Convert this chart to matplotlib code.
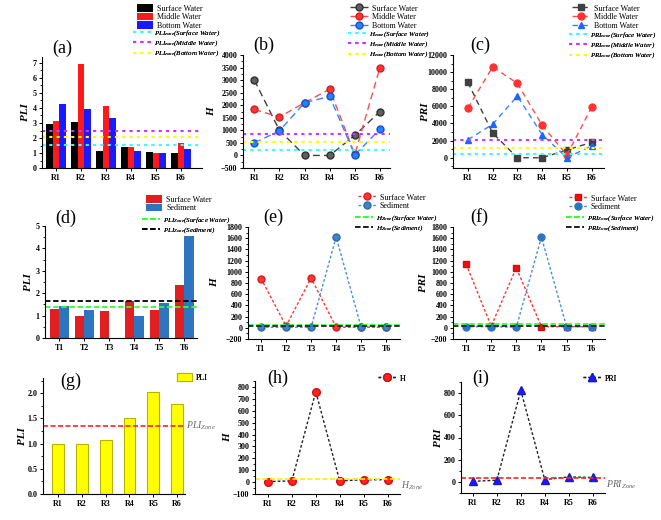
import matplotlib
matplotlib.use("Agg")
import matplotlib.pyplot as plt
import numpy as np
from matplotlib.ticker import AutoMinorLocator, MultipleLocator

plt.rcParams['font.family'] = ['Liberation Serif', 'DejaVu Serif']
plt.rcParams['mathtext.fontset'] = 'custom'
plt.rcParams['mathtext.rm'] = 'Liberation Serif'
plt.rcParams['mathtext.it'] = 'Liberation Serif:italic'
plt.rcParams['mathtext.bf'] = 'Liberation Serif:bold'

W, H = 661, 520

# ---- data ----
sites_r = ["R1", "R2", "R3", "R4", "R5", "R6"]
sites_t = ["T1", "T2", "T3", "T4", "T5", "T6"]

# (a) PLI by water layer
pli_surface = [2.9, 3.05, 1.15, 1.4, 1.07, 1.0]
pli_middle = [3.1, 6.9, 4.1, 1.42, 1.0, 1.65]
pli_bottom = [4.25, 3.9, 3.35, 1.15, 1.0, 1.3]
pli_zone = {"surface": 1.55, "middle": 2.45, "bottom": 2.1}

# (b) H by water layer
h_surface = [3000, 1000, 0, 0, 800, 1750]
h_middle = [1830, 1530, 2100, 2640, 40, 3500]
h_bottom = [500, 980, 2100, 2350, 20, 1050]
h_zone = {"surface": 200, "middle": 850, "bottom": 530}

# (c) PRI by water layer
pri_surface = [8800, 2900, 0, 0, 900, 1800]
pri_middle = [5800, 10600, 8700, 3800, 300, 5900]
pri_bottom = [2100, 3900, 7200, 2700, 0, 1400]
pri_zone = {"surface": 400, "middle": 2100, "bottom": 1100}

# (d)-(f) surface water vs sediment
pli_sw = [1.3, 1.0, 1.2, 1.65, 1.25, 2.35]
pli_sed = [1.45, 1.25, 0.0, 1.0, 1.55, 4.55]
pli_zone_sw, pli_zone_sed = 1.4, 1.65
h_sw = [880, 30, 890, 10, 10, 10]
h_sed = [10, 10, 10, 1620, 10, 10]
h_zone_sw, h_zone_sed = 50, 30
pri_sw = [1140, 30, 1070, 20, 20, 20]
pri_sed = [20, 20, 10, 1620, 20, 20]
pri_zone_sw, pri_zone_sed = 60, 40

# (g)-(i) single series
pli_g = [1.0, 1.0, 1.08, 1.5, 2.03, 1.78]
pli_g_zone = 1.35
h_h = [5, 10, 760, 10, 20, 20]
h_h_zone = 25
pri_i = [5, 15, 825, 20, 45, 40]
pri_i_zone = 35

fig = plt.figure(figsize=(W / 100, H / 100), dpi=100)


def make_ax(l, t, r, b):
    return fig.add_axes([l / W, 1 - b / H, (r - l) / W, (b - t) / H])


def style(ax, labels, xlim, ylim, step, ylabel, lab_px, l, r):
    ax.set_xlim(*xlim)
    ax.set_ylim(*ylim)
    ax.set_xticks(range(len(labels)))
    ax.set_xticklabels(labels)
    ax.yaxis.set_major_locator(MultipleLocator(step))
    ax.yaxis.set_minor_locator(AutoMinorLocator(2))
    for s in ["top", "right"]:
        ax.spines[s].set_visible(False)
    for s in ["left", "bottom"]:
        ax.spines[s].set_linewidth(0.8)
    ax.tick_params(which="major", direction="out", length=2.5, width=0.7,
                   labelsize=5.8, pad=1.5)
    ax.tick_params(which="minor", direction="out", length=1.5, width=0.6)
    ax.tick_params(axis="x", which="minor", bottom=False)
    for t in ax.get_xticklabels() + ax.get_yticklabels():
        t.set_fontweight("bold")
    ax.set_ylabel(ylabel, fontsize=8, fontweight="bold", fontstyle="italic")
    ax.yaxis.set_label_coords((lab_px - l) / (r - l), 0.5)


def legend(ax, handles, x, y, hl=2.2, fs=5.8, sp=0.0, hh=1.1, italic=False):
    prop = {"size": fs, "style": "italic" if italic else "normal"}
    leg = ax.legend(handles=handles, loc="upper left",
                    bbox_to_anchor=(x / W, 1 - y / H),
                    bbox_transform=fig.transFigure, frameon=False,
                    prop=prop, handlelength=hl, handleheight=hh,
                    labelspacing=sp, borderpad=0.0, handletextpad=0.5)
    ax.add_artist(leg)
    return leg


def zone_legend(ax, handles, x, y):
    return legend(ax, handles, x, y, hl=2.5, fs=5.0, sp=0.05, hh=0.7,
                  italic=True)


def panel_label(x, y, s):
    fig.text(x / W, 1 - y / H, s, fontsize=13, ha="left", va="center")


x = np.arange(6)
cyan, magenta, yellow = "#33ffff", "#cc33ff", "#ffff00"
zone_ls = (0, (1.5, 2.0))
dash_ls = (0, (3, 1.5))

# ---- (a) ----
ax = make_ax(42, 57, 202, 168)
bw = 0.26
b1 = ax.bar(x - bw, pli_surface, bw, color="black", label="Surface Water")
b2 = ax.bar(x, pli_middle, bw, color="#ff1a1a", label="Middle Water")
b3 = ax.bar(x + bw, pli_bottom, bw, color="#1a1aff", label="Bottom Water")
l1 = ax.axhline(pli_zone["surface"], color=cyan, ls=zone_ls, lw=1.5,
                label=r"$PLI_{zone}$(Surface Water)")
l2 = ax.axhline(pli_zone["middle"], color=magenta, ls=zone_ls, lw=1.5,
                label=r"$PLI_{zone}$(Middle Water)")
l3 = ax.axhline(pli_zone["bottom"], color=yellow, ls=zone_ls, lw=1.5,
                label=r"$PLI_{zone}$(Bottom Water)")
style(ax, sites_r, (-0.55, 5.85), (0, 7.4), 1, "PLI", 30, 42, 202)
legend(ax, [b1, b2, b3], 133, 0, hl=2.0)
zone_legend(ax, [l1, l2, l3], 130, 25)
panel_label(52, 48, "(a)")

# ---- (b) ----
ax = make_ax(243, 55, 390, 168)
p1, = ax.plot(x, h_surface, ls=(0, (5, 3)), color="#404040", marker="o",
              ms=5, mfc="#606060", mec="#303030", lw=1, label="Surface Water")
p2, = ax.plot(x, h_middle, ls=(0, (5, 3)), color="#ff4d4d", marker="o",
              ms=5, mfc="#ff3333", mec="#cc2222", lw=1, label="Middle Water")
p3, = ax.plot(x, h_bottom, ls=(0, (5, 3)), color="#3385ff", marker="o",
              ms=5, mfc="#2a7fff", mec="#1155cc", lw=1, label="Bottom Water")
l1 = ax.axhline(h_zone["surface"], color=cyan, ls=zone_ls, lw=1.5,
                label=r"$H_{zone}$(Surface Water)")
l2 = ax.axhline(h_zone["middle"], color=magenta, ls=zone_ls, lw=1.5,
                label=r"$H_{zone}$(Middle Water)")
l3 = ax.axhline(h_zone["bottom"], color=yellow, ls=zone_ls, lw=1.5,
                label=r"$H_{zone}$(Bottom Water)")
style(ax, sites_r, (-0.45, 5.4), (-500, 4000), 500, "H", 216, 243, 390)
legend(ax, [p1, p2, p3], 346, 0)
zone_legend(ax, [l1, l2, l3], 345, 26)
panel_label(253, 45, "(b)")

# ---- (c) ----
ax = make_ax(453, 55, 604, 168)
p1, = ax.plot(x, pri_surface, ls=(0, (4, 3)), color="#404040", marker="s",
              ms=4.5, mfc="#404040", mec="#404040", lw=1,
              label="Surface Water")
p2, = ax.plot(x, pri_middle, ls=(0, (4, 3)), color="#ff4d4d", marker="o",
              ms=5, mfc="#ff3333", mec="#ff3333", lw=1, label="Middle Water")
p3, = ax.plot(x, pri_bottom, ls=(0, (4, 3)), color="#3385ff", marker="^",
              ms=5, mfc="#1a66ff", mec="#1a66ff", lw=1, label="Bottom Water")
l1 = ax.axhline(pri_zone["surface"], color=cyan, ls=zone_ls, lw=1.5,
                label=r"$PRI_{zone}$(Surface Water)")
l2 = ax.axhline(pri_zone["middle"], color=magenta, ls=zone_ls, lw=1.5,
                label=r"$PRI_{zone}$(Middle Water)")
l3 = ax.axhline(pri_zone["bottom"], color=yellow, ls=zone_ls, lw=1.5,
                label=r"$PRI_{zone}$(Bottom Water)")
style(ax, sites_r, (-0.6, 5.5), (-1200, 12000), 2000, "PRI", 430, 453, 604)
legend(ax, [p1, p2, p3], 568, 0)
zone_legend(ax, [l1, l2, l3], 566, 27)
panel_label(470, 45, "(c)")

# ---- (d) ----
ax = make_ax(45, 226, 197, 338)
bw2 = 0.38
b1 = ax.bar(x - bw2 / 2, pli_sw, bw2, color="#e02020", label="Surface Water")
b2 = ax.bar(x + bw2 / 2, pli_sed, bw2, color="#2e75c0", label="Sediment")
l1 = ax.axhline(pli_zone_sw, color="#33ff33", ls=dash_ls, lw=1.3,
                label=r"$PLI_{Zone}$(Surface Water)")
l2 = ax.axhline(pli_zone_sed, color="black", ls=dash_ls, lw=1.3,
                label=r"$PLI_{Zone}$(Sediment)")
style(ax, sites_t, (-0.57, 5.5), (0, 5), 1, "PLI", 33, 45, 197)
legend(ax, [b1, b2], 142, 191, hl=2.0)
zone_legend(ax, [l1, l2], 139, 212)
panel_label(55, 218, "(d)")

# ---- (e) ----
ax = make_ax(248, 227, 400, 339)
p1, = ax.plot(x, h_sw, ls=(0, (2, 1.5)), color="#ff3333", marker="o", ms=5,
              mfc="#ff3333", mec="#cc2222", lw=1, label="Surface Water")
p2, = ax.plot(x, h_sed, ls=(0, (2, 1.5)), color="#4a90d9", marker="o", ms=5,
              mfc="#3d85c6", mec="#2a6aa8", lw=1, label="Sediment")
l1 = ax.axhline(h_zone_sw, color="#33ff33", ls=dash_ls, lw=1.3,
                label=r"$H_{Zone}$(Surface Water)")
l2 = ax.axhline(h_zone_sed, color="#222222", ls=dash_ls, lw=1.3,
                label=r"$H_{Zone}$(Sediment)")
style(ax, sites_t, (-0.52, 5.55), (-200, 1800), 200, "H", 219, 248, 400)
legend(ax, [p1, p2], 354, 189)
zone_legend(ax, [l1, l2], 352, 210)
panel_label(263, 217, "(e)")

# ---- (f) ----
ax = make_ax(453, 227, 605, 339)
p1, = ax.plot(x, pri_sw, ls=(0, (2, 1.5)), color="#ff3333", marker="s",
              ms=5, mfc="#ee1111", mec="#cc1111", lw=1, label="Surface Water")
p2, = ax.plot(x, pri_sed, ls=(0, (2, 1.5)), color="#4a90d9", marker="o",
              ms=5, mfc="#2e75c0", mec="#2e75c0", lw=1, label="Sediment")
l1 = ax.axhline(pri_zone_sw, color="#33ff33", ls=dash_ls, lw=1.3,
                label=r"$PRI_{Zone}$(Surface Water)")
l2 = ax.axhline(pri_zone_sed, color="#222222", ls=dash_ls, lw=1.3,
                label=r"$PRI_{Zone}$(Sediment)")
style(ax, sites_t, (-0.52, 5.53), (-200, 1800), 200, "PRI", 428, 453, 605)
legend(ax, [p1, p2], 565, 190)
zone_legend(ax, [l1, l2], 563, 210)
panel_label(470, 217, "(f)")

# ---- (g) ----
ax = make_ax(43, 378, 185, 494)
bg = ax.bar(x, pli_g, 0.5, color="#ffff00", edgecolor="#b5b500", lw=0.8,
            label="PLI")
ax.axhline(pli_g_zone, color="#ff2222", ls=(0, (3, 1.5)), lw=1.2)
ax.text(1.01, pli_g_zone, r"$PLI_{Zone}$", transform=ax.get_yaxis_transform(),
        fontsize=7, color="#666666", va="center", ha="left")
style(ax, sites_r, (-0.63, 5.33), (0, 2.3), 0.5, "PLI", 27, 43, 185)
ax.yaxis.set_major_formatter(plt.FormatStrFormatter("%.1f"))
for t in ax.get_yticklabels():
    t.set_fontweight("bold")
legend(ax, [bg], 173, 369, hl=1.8)
panel_label(60, 381, "(g)")

# ---- (h) ----
ax = make_ax(255, 381, 400, 494)
ph, = ax.plot(x, h_h, ls=(0, (2, 1.5)), color="#222222", marker="o", ms=5.5,
              mfc="#ff2222", mec="#cc1111", lw=1, label="H")
ax.axhline(h_h_zone, color="#ffee00", ls=(0, (3, 1.5)), lw=1.2)
ax.text(1.01, h_h_zone, r"$H_{Zone}$", transform=ax.get_yaxis_transform(),
        fontsize=7, color="#666666", va="top", ha="left")
style(ax, sites_r, (-0.54, 5.52), (-100, 850), 100, "H", 232, 255, 400)
legend(ax, [ph], 374, 370)
panel_label(267, 378, "(h)")

# ---- (i) ----
ax = make_ax(461, 382, 605, 493)
pi, = ax.plot(x, pri_i, ls=(0, (2, 1.5)), color="#222222", marker="^", ms=6,
              mfc="#1a1aff", mec="#1a1acc", lw=1, label="PRI")
ax.axhline(pri_i_zone, color="#ff2222", ls=(0, (3, 1.5)), lw=1.2)
ax.text(1.01, pri_i_zone, r"$PRI_{Zone}$", transform=ax.get_yaxis_transform(),
        fontsize=7, color="#666666", va="top", ha="left")
style(ax, sites_r, (-0.5, 5.52), (-100, 900), 200, "PRI", 443, 461, 605)
legend(ax, [pi], 579, 370)
panel_label(472, 378, "(i)")

fig.savefig("out.png", dpi=100)
